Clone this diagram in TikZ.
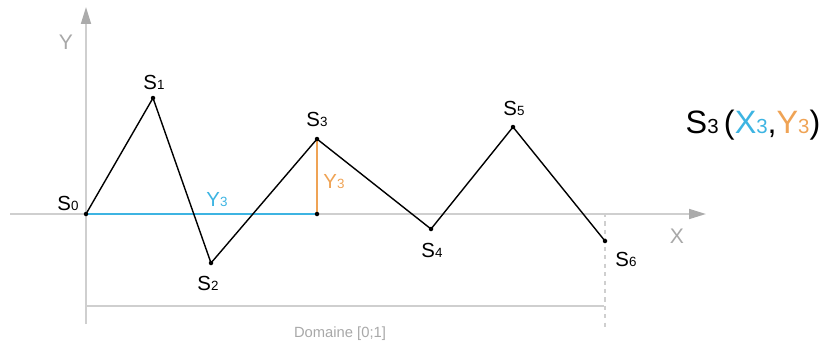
\documentclass[tikz,border=0pt]{standalone}
\usepackage{fontspec}
\setmainfont{Liberation Sans}
\usepackage{xcolor}
\usetikzlibrary{positioning, arrows.meta}
\definecolor{axisgray}{HTML}{CFCFCF}
\definecolor{tipgray}{HTML}{ABABAB}
\definecolor{textgray}{HTML}{A8A8A8}
\definecolor{xblue}{HTML}{3DB4E2}
\definecolor{yorange}{HTML}{EFA355}
\newcommand{\idx}[2]{#1{\fontsize{9.5}{10}\selectfont #2}}
\newcommand{\bigidx}[2]{#1{\fontsize{14.5}{15}\selectfont #2}}
\tikzset{
  axis/.style={draw=axisgray, line width=1.4pt},
  axisarrow/.style={axis, -{Triangle[length=12pt, width=7pt, color=tipgray]}},
  segment/.style={draw=black, line width=1pt, line join=miter},
  dot/.style={circle, fill=black, inner sep=0pt, minimum size=3.2pt},
  lbl/.style={font=\fontsize{14.5}{16}\selectfont, inner sep=1pt},
  axlbl/.style={font=\fontsize{15}{17}\selectfont, text=textgray, inner sep=1pt},
}

\begin{document}
\begin{tikzpicture}[x=0.025cm, y=-0.025cm]
  \useasboundingbox (0,0) rectangle (836,349);
  % points
  \coordinate (s0) at (86,214);
  \coordinate (s1) at (153,98);
  \coordinate (s2) at (211,263);
  \coordinate (s3) at (317,139);
  \coordinate (s4) at (431,229);
  \coordinate (s5) at (513,127);
  \coordinate (s6) at (605,241);
  \coordinate (x3) at (317,214);
  % axes
  \coordinate (xl) at (10,214);
  \coordinate (xr) at (706,214);
  \coordinate (yb) at (86,324);
  \coordinate (yt) at (86,7);
  \coordinate (dl) at (86,306);
  \coordinate (dr) at (604,306);
  \coordinate (dt) at (605,213);
  \coordinate (db) at (605,331);
  \draw[axisarrow] (xl) -- (xr);
  \draw[axisarrow] (yb) -- (yt);
  \draw[axis] (dl) -- (dr);
  \draw[axisgray, line width=0.8pt, dashed] (dt) -- (db);
  \node[axlbl] (ylab) at (66,42) {Y};
  \node[axlbl] (xlab) at (677,236) {X};
  \node[font=\fontsize{10.5}{12}\selectfont, text=textgray] (dom) at (340,334) {Domaine [0;1]};
  % coordinates of S3
  \draw[xblue, line width=1.4pt] (s0) -- (x3);
  \draw[yorange, line width=1.2pt] (s3) -- (x3);
  \node[lbl, text=xblue] (xval) at (217,200) {\idx{Y}{3}};
  \node[lbl, text=yorange] (yval) at (334,182) {\idx{Y}{3}};
  % path
  \draw[segment] (s0) -- (s1) -- (s2) -- (s3) -- (s4) -- (s5) -- (s6);
  \foreach \p in {s0,s1,s2,s3,s4,s5,s6,x3} \node[dot] at (\p) {};
  \node[lbl] (l0) at (68,203) {\idx{S}{0}};
  \node[lbl] (l1) at (154,82) {\idx{S}{1}};
  \node[lbl] (l2) at (208,283) {\idx{S}{2}};
  \node[lbl] (l3) at (317,119) {\idx{S}{3}};
  \node[lbl] (l4) at (432,250) {\idx{S}{4}};
  \node[lbl] (l5) at (514,108) {\idx{S}{5}};
  \node[lbl] (l6) at (626,259) {\idx{S}{6}};
  \node[font=\fontsize{23}{25}\selectfont, inner sep=1pt] (cap) at (753,125)
    {\bigidx{S}{3}\,(\textcolor{xblue}{\bigidx{X}{3}},\textcolor{yorange}{\bigidx{Y}{3}})};
\end{tikzpicture}
\end{document}
